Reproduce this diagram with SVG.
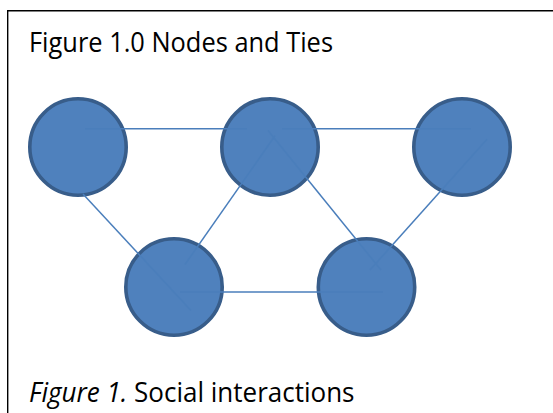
<svg xmlns="http://www.w3.org/2000/svg" width="553" height="413" viewBox="0 0 553 413">
  <style>
    .frame { fill: none; stroke: #000; stroke-width: 1.4; }
    .node { fill: #4F81BD; stroke: #385D8A; stroke-width: 3.6; }
    .tie { stroke: #4A7EBB; stroke-width: 1.5; fill: none; }
    .title { font-family: "Open Sans", "Liberation Sans", sans-serif; font-size: 27px; fill: #000; }
  </style>
  <rect width="553" height="413" fill="#fff"/>
  <path class="frame" d="M7.7 413 V10.7 H553"/>

  <text class="title" x="29" y="52" textLength="304" lengthAdjust="spacingAndGlyphs">Figure 1.0 Nodes and Ties</text>

  <g id="n1"><circle class="node" cx="78" cy="147" r="48.2"/></g>
  <g id="n2"><circle class="node" cx="270" cy="147" r="48.2"/></g>
  <g id="n3"><circle class="node" cx="462" cy="147" r="48.2"/></g>
  <g id="n4"><circle class="node" cx="174" cy="287" r="48.2"/></g>
  <g id="n5"><circle class="node" cx="366.5" cy="287" r="48.2"/></g>

  <g id="ties">
    <line class="tie" x1="85" y1="128.7" x2="247" y2="128.7"/>
    <line class="tie" x1="282" y1="128.7" x2="471" y2="128.7"/>
    <line class="tie" x1="83" y1="194" x2="191" y2="310.5"/>
    <line class="tie" x1="275" y1="135.8" x2="185" y2="264.5"/>
    <line class="tie" x1="268" y1="130.5" x2="381" y2="270"/>
    <line class="tie" x1="487" y1="139.3" x2="370" y2="270"/>
    <line class="tie" x1="180" y1="292" x2="383" y2="292"/>
  </g>

  <text class="title" x="29" y="402" textLength="325.5" lengthAdjust="spacingAndGlyphs"><tspan font-style="italic">Figure 1.</tspan> Social interactions</text>
</svg>
